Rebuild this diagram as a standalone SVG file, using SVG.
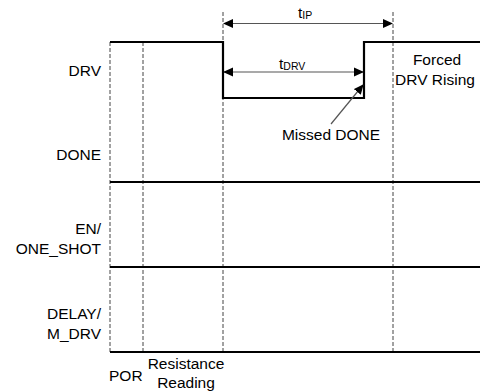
<svg xmlns="http://www.w3.org/2000/svg" width="481" height="392" viewBox="0 0 481 392">
<style>
text{font-family:"Liberation Sans",Arial,sans-serif;font-size:15.5px;fill:#000}
.r{text-anchor:end}
.m{text-anchor:middle}
.sub{font-size:10.5px}
.dash{stroke:#444;stroke-width:1;stroke-dasharray:4,2;fill:none}
.sig{stroke:#000;stroke-width:2.2;fill:none}
.dim{stroke:#555;stroke-width:1.2;fill:none}
</style>
<defs>
<marker id="ah" markerWidth="10" markerHeight="10" refX="9" refY="5" orient="auto-start-reverse" markerUnits="userSpaceOnUse">
<path d="M0,0.5 L10,5 L0,9.5 Z" fill="#000"/>
</marker>
</defs>
<rect width="481" height="392" fill="#fff"/>
<g id="grid">
<line class="dash" x1="110" y1="42" x2="110" y2="352"/>
<line class="dash" x1="143" y1="42" x2="143" y2="352"/>
<line class="dash" x1="223" y1="12" x2="223" y2="352"/>
<line class="dash" x1="393" y1="12" x2="393" y2="352"/>
</g>
<g id="drv">
<polyline class="sig" points="110,42 223,42 223,98 364,98 364,42 480,42"/>
<text class="r" x="101" y="76">DRV</text>
</g>
<g id="done">
<line class="sig" x1="110" y1="182" x2="480" y2="182"/>
<text class="r" x="101" y="160">DONE</text>
</g>
<g id="en">
<line class="sig" x1="110" y1="267" x2="480" y2="267"/>
<text class="r" x="101" y="234">EN/</text>
<text class="r" x="101" y="254">ONE_SHOT</text>
</g>
<g id="delay">
<line class="sig" x1="110" y1="352" x2="480" y2="352"/>
<text class="r" x="101" y="319">DELAY/</text>
<text class="r" x="101" y="339">M_DRV</text>
</g>
<g id="connectors">
<line class="dim" x1="224" y1="23.5" x2="392" y2="23.5" marker-start="url(#ah)" marker-end="url(#ah)"/>
<line class="dim" x1="224" y1="72" x2="363" y2="72" marker-start="url(#ah)" marker-end="url(#ah)"/>
<line class="dim" x1="331" y1="124" x2="363" y2="85" marker-end="url(#ah)"/>
</g>
<g id="labels">
<text x="298" y="18">t<tspan class="sub" dy="1">IP</tspan></text>
<text x="279" y="69">t<tspan class="sub" dy="1">DRV</tspan></text>
<text class="m" x="331" y="140">Missed DONE</text>
<text class="m" x="437" y="65">Forced</text>
<text class="m" x="435" y="85">DRV Rising</text>
<text x="109" y="381">POR</text>
<text class="m" x="186" y="369">Resistance</text>
<text class="m" x="186" y="388">Reading</text>
</g>
</svg>
